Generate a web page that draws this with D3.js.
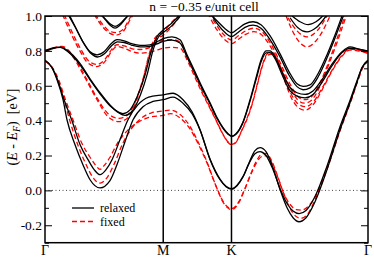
<!DOCTYPE html>
<html>
<head>
<meta charset="utf-8">
<script src="https://cdn.jsdelivr.net/npm/d3@7"></script>
<style>
body { margin: 0; background: #fff; }
svg text { font-family: "Liberation Serif", "Times New Roman", "DejaVu Serif", serif; }
</style>
</head>
<body>
<script>
// size of the page and plot box
var w = 374, h = 258;
var x0 = 45, x1 = 368, y0 = 16, y1 = 242.7;

// path through the zone: Γ - M - K - Γ
var kTicks = [0, 0.866, 1.366, 2.366];
var kLabels = ["Γ", "M", "K", "Γ"];
var eTicks = [-0.2, 0.0, 0.2, 0.4, 0.6, 0.8, 1.0];
var eMinor = [-0.3, -0.1, 0.1, 0.3, 0.5, 0.7, 0.9];
var title = "n = \u22120.35 e/unit cell";
var legendNames = ["relaxed", "fixed"];

// bands as [k, E]
var relaxedA1 = [[0,0.746],[0.051,0.703],[0.088,0.634],[0.132,0.52],[0.161,0.405],[0.22,0.262],[0.278,0.147],[0.33,0.061],[0.403,0.014],[0.476,0.056],[0.527,0.147],[0.586,0.279],[0.645,0.405],[0.718,0.48],[0.791,0.51],[0.866,0.52],
  [0.938,0.535],[1.011,0.5],[1.077,0.44],[1.136,0.345],[1.209,0.176],[1.282,0.061],[1.326,0.021],[1.368,0.007],
  [1.407,0.027],[1.451,0.078],[1.495,0.159],[1.538,0.228],[1.575,0.245],[1.619,0.222],[1.67,0.13],[1.722,0.004],[1.773,-0.1],[1.817,-0.157],[1.861,-0.18],[1.912,-0.157],[1.978,-0.065],[2.066,0.119],[2.161,0.347],[2.234,0.502],[2.286,0.622],[2.322,0.703],[2.366,0.746]];
var relaxedA2 = [[0,0.746],[0.051,0.705],[0.092,0.634],[0.14,0.52],[0.195,0.405],[0.257,0.262],[0.315,0.176],[0.36,0.119],[0.403,0.09],[0.447,0.119],[0.491,0.176],[0.549,0.29],[0.608,0.405],[0.68,0.49],[0.76,0.535],[0.866,0.548],
  [0.938,0.557],[1.011,0.52],[1.077,0.451],[1.136,0.348],[1.209,0.18],[1.282,0.065],[1.326,0.024],[1.368,0.01],
  [1.407,0.03],[1.451,0.08],[1.495,0.155],[1.538,0.21],[1.575,0.222],[1.619,0.2],[1.67,0.12],[1.722,0.01],[1.773,-0.075],[1.817,-0.118],[1.861,-0.133],[1.912,-0.115],[1.978,-0.035],[2.066,0.14],[2.161,0.365],[2.234,0.515],[2.286,0.63],[2.322,0.705],[2.366,0.746]];
var relaxedB1 = [[0,0.797],[0.051,0.812],[0.11,0.82],[0.168,0.795],[0.256,0.72],[0.33,0.634],[0.403,0.554],[0.476,0.485],[0.535,0.45],[0.571,0.44],[0.623,0.462],[0.681,0.548],[0.733,0.663],[0.777,0.795],[0.82,0.881],[0.866,0.92],[0.93,0.96],[0.99,1.01]];
var relaxedB2 = [[0,0.802],[0.051,0.816],[0.11,0.822],[0.168,0.8],[0.256,0.728],[0.33,0.64],[0.403,0.56],[0.476,0.49],[0.54,0.445],[0.586,0.43],[0.64,0.455],[0.7,0.55],[0.75,0.67],[0.79,0.8],[0.83,0.878],[0.866,0.905],[0.93,0.945],[1.0,1.01]];
var relaxedC1 = [[0.168,1.01],[0.22,0.938],[0.278,0.852],[0.33,0.795],[0.381,0.777],[0.432,0.795],[0.484,0.841],[0.527,0.864],[0.579,0.858],[0.637,0.841],[0.696,0.832],[0.769,0.835],[0.82,0.852],[0.866,0.87],
  [0.93,0.88],[0.989,0.864],[1.04,0.778],[1.092,0.692],[1.15,0.594],[1.209,0.502],[1.26,0.417],[1.304,0.36],[1.341,0.325],[1.368,0.311],
  [1.399,0.325],[1.451,0.394],[1.502,0.52],[1.546,0.646],[1.583,0.749],[1.619,0.8],[1.648,0.8],[1.685,0.766],[1.736,0.68],[1.795,0.59],[1.846,0.56],[1.905,0.55],[1.963,0.57],[2.029,0.635],[2.103,0.725],[2.176,0.795],[2.234,0.823],[2.293,0.812],[2.366,0.797]];
var relaxedC2 = [[0.175,1.01],[0.227,0.93],[0.285,0.842],[0.337,0.785],[0.385,0.765],[0.435,0.783],[0.488,0.83],[0.53,0.852],[0.58,0.848],[0.637,0.832],[0.696,0.823],[0.769,0.826],[0.82,0.84],[0.866,0.855],
  [0.93,0.862],[0.989,0.845],[1.04,0.765],[1.092,0.68],[1.15,0.585],[1.209,0.495],[1.26,0.412],[1.304,0.356],[1.341,0.322],[1.368,0.309],
  [1.399,0.322],[1.451,0.39],[1.502,0.512],[1.546,0.635],[1.583,0.737],[1.619,0.788],[1.648,0.79],[1.685,0.755],[1.736,0.665],[1.795,0.57],[1.846,0.54],[1.905,0.53],[1.963,0.55],[2.029,0.62],[2.103,0.715],[2.176,0.79],[2.234,0.815],[2.293,0.81],[2.366,0.8]];
var relaxedD1 = [[0.403,1.01],[0.44,0.985],[0.476,0.955],[0.513,0.94],[0.549,0.955],[0.586,0.985],[0.62,1.01]];
var relaxedD2 = [[0.41,1.01],[0.446,0.975],[0.48,0.945],[0.513,0.93],[0.546,0.945],[0.58,0.975],[0.615,1.01]];
var relaxedE1 = [[1.2,1.02],[1.267,0.967],[1.319,0.927],[1.368,0.904],[1.414,0.927],[1.465,0.955],[1.524,0.967],[1.582,0.95],[1.648,0.887],[1.722,0.783],[1.788,0.68],[1.846,0.611],[1.89,0.596],[1.941,0.605],[2.0,0.669],[2.066,0.778],[2.125,0.892],[2.18,1.01]];
var relaxedE2 = [[1.21,1.02],[1.267,0.95],[1.319,0.905],[1.368,0.882],[1.414,0.905],[1.465,0.935],[1.524,0.948],[1.582,0.93],[1.648,0.865],[1.722,0.765],[1.788,0.66],[1.846,0.595],[1.89,0.577],[1.941,0.588],[2.0,0.65],[2.066,0.76],[2.125,0.875],[2.19,1.01]];
var relaxedF1 = [[1.81,1.0],[1.868,0.967],[1.927,0.95],[1.985,0.967],[2.044,1.007]];
var relaxedF2 = [[1.795,0.99],[1.853,0.932],[1.919,0.909],[1.985,0.932],[2.059,1.0]];

var fixedA1 = [[0,0.742],[0.055,0.7],[0.095,0.634],[0.14,0.52],[0.18,0.405],[0.24,0.262],[0.3,0.15],[0.35,0.075],[0.403,0.042],[0.456,0.075],[0.506,0.15],[0.57,0.27],[0.63,0.35],[0.7,0.41],[0.78,0.445],[0.866,0.455],
  [0.92,0.46],[0.99,0.435],[1.06,0.37],[1.12,0.28],[1.18,0.176],[1.25,0.03],[1.31,-0.075],[1.368,-0.11],
  [1.42,-0.07],[1.47,0.02],[1.51,0.1],[1.55,0.17],[1.59,0.21],[1.62,0.212],[1.66,0.17],[1.7,0.09],[1.75,-0.02],[1.8,-0.11],[1.84,-0.15],[1.875,-0.16],[1.92,-0.14],[1.98,-0.05],[2.07,0.13],[2.165,0.35],[2.24,0.51],[2.29,0.625],[2.325,0.7],[2.366,0.742]];
var fixedA2 = [[0,0.742],[0.055,0.702],[0.1,0.634],[0.15,0.52],[0.205,0.405],[0.27,0.27],[0.33,0.19],[0.37,0.145],[0.403,0.12],[0.436,0.145],[0.476,0.19],[0.53,0.27],[0.6,0.34],[0.68,0.39],[0.77,0.42],[0.866,0.43],
  [0.92,0.44],[0.99,0.415],[1.06,0.355],[1.12,0.27],[1.18,0.17],[1.25,0.03],[1.31,-0.07],[1.368,-0.105],
  [1.42,-0.065],[1.47,0.02],[1.51,0.095],[1.55,0.16],[1.59,0.195],[1.62,0.198],[1.66,0.16],[1.7,0.085],[1.75,-0.02],[1.8,-0.085],[1.84,-0.11],[1.88,-0.113],[1.93,-0.09],[1.99,-0.02],[2.07,0.14],[2.165,0.36],[2.24,0.515],[2.29,0.628],[2.325,0.7],[2.366,0.742]];
var fixedB1 = [[0,0.795],[0.051,0.812],[0.125,0.823],[0.198,0.772],[0.293,0.646],[0.381,0.52],[0.462,0.422],[0.542,0.394],[0.608,0.417],[0.667,0.508],[0.718,0.634],[0.762,0.778],[0.806,0.875],[0.866,0.91],[0.93,0.966],[0.989,1.01]];
var fixedB2 = [[0,0.8],[0.051,0.815],[0.125,0.826],[0.198,0.78],[0.293,0.656],[0.381,0.53],[0.462,0.44],[0.542,0.413],[0.608,0.435],[0.667,0.52],[0.718,0.64],[0.762,0.77],[0.806,0.86],[0.866,0.89],[0.93,0.94],[1.0,1.01]];
var fixedC1 = [[0.128,1.01],[0.19,0.9],[0.256,0.8],[0.315,0.73],[0.381,0.71],[0.44,0.74],[0.49,0.8],[0.527,0.825],[0.58,0.815],[0.64,0.795],[0.696,0.787],[0.77,0.793],[0.82,0.805],[0.866,0.815],
  [0.93,0.82],[0.99,0.815],[1.04,0.75],[1.092,0.66],[1.15,0.56],[1.209,0.47],[1.26,0.39],[1.304,0.32],[1.341,0.275],[1.368,0.262],
  [1.399,0.275],[1.44,0.34],[1.478,0.405],[1.52,0.5],[1.56,0.62],[1.595,0.72],[1.63,0.775],[1.665,0.782],[1.705,0.74],[1.755,0.645],[1.805,0.55],[1.855,0.495],[1.905,0.48],[1.963,0.505],[2.029,0.585],[2.103,0.69],[2.176,0.775],[2.234,0.81],[2.293,0.805],[2.366,0.79]];
var fixedC2 = [[0.14,1.01],[0.2,0.905],[0.262,0.81],[0.32,0.742],[0.381,0.722],[0.44,0.752],[0.49,0.81],[0.527,0.835],[0.58,0.828],[0.64,0.812],[0.696,0.808],[0.77,0.82],[0.82,0.845],[0.866,0.862],
  [0.93,0.865],[0.99,0.85],[1.04,0.77],[1.092,0.675],[1.15,0.57],[1.209,0.475],[1.26,0.392],[1.304,0.322],[1.341,0.277],[1.368,0.264],
  [1.399,0.277],[1.44,0.342],[1.478,0.41],[1.52,0.505],[1.56,0.625],[1.595,0.725],[1.63,0.785],[1.665,0.79],[1.705,0.75],[1.755,0.63],[1.805,0.53],[1.855,0.475],[1.905,0.46],[1.963,0.49],[2.029,0.575],[2.103,0.685],[2.176,0.77],[2.234,0.805],[2.293,0.8],[2.366,0.785]];
var fixedD1 = [[0.366,1.01],[0.425,0.95],[0.476,0.912],[0.52,0.905],[0.571,0.922],[0.623,0.99],[0.64,1.01]];
var fixedD2 = [[0.36,1.01],[0.42,0.94],[0.476,0.9],[0.52,0.89],[0.571,0.91],[0.628,0.985],[0.648,1.01]];
var fixedE1 = [[1.2,1.02],[1.267,0.935],[1.319,0.885],[1.368,0.862],[1.414,0.885],[1.47,0.915],[1.53,0.93],[1.59,0.91],[1.655,0.84],[1.73,0.72],[1.795,0.61],[1.85,0.54],[1.9,0.52],[1.95,0.535],[2.01,0.61],[2.075,0.73],[2.135,0.86],[2.2,1.01]];
var fixedE2 = [[1.19,1.02],[1.26,0.92],[1.315,0.865],[1.368,0.842],[1.414,0.865],[1.47,0.895],[1.53,0.91],[1.59,0.89],[1.655,0.82],[1.73,0.7],[1.795,0.59],[1.85,0.52],[1.9,0.5],[1.95,0.515],[2.01,0.59],[2.075,0.715],[2.14,0.85],[2.21,1.01]];
var fixedF1 = [[1.78,0.99],[1.846,0.915],[1.919,0.88],[1.993,0.915],[2.066,1.0]];
var fixedF2 = [[1.766,1.0],[1.832,0.886],[1.919,0.823],[2.007,0.88],[2.088,1.0]];

var relaxedBands = [relaxedA1, relaxedA2, relaxedB1, relaxedB2, relaxedC1, relaxedC2, relaxedD1, relaxedD2, relaxedE1, relaxedE2, relaxedF1, relaxedF2];
var fixedBands = [fixedA1, fixedA2, fixedB1, fixedB2, fixedC1, fixedC2, fixedD1, fixedD2, fixedE1, fixedE2, fixedF1, fixedF2];

var serif = "\"Liberation Serif\", \"Times New Roman\", \"DejaVu Serif\", serif";

var svg = d3.select("body")
            .append("svg")
            .attr("width", w)
            .attr("height", h)
            .style("background", "#fff");

var x = d3.scaleLinear().domain([0, 2.366]).range([x0, x1]);
var y = d3.scaleLinear().domain([-0.3, 1.0]).range([y1, y0]);

svg.append("clipPath").attr("id", "plotclip")
   .append("rect")
   .attr("x", x0).attr("y", y0)
   .attr("width", x1 - x0).attr("height", y1 - y0);

// zero line
svg.append("line")
   .attr("x1", x0).attr("x2", x1)
   .attr("y1", y(0)).attr("y2", y(0))
   .attr("stroke", "#444")
   .attr("stroke-width", 1)
   .attr("stroke-dasharray", "1,2.5");

var line = d3.line()
   .x(function(d) { return x(d[0]); })
   .y(function(d) { return y(d[1]); })
   .curve(d3.curveMonotoneX);

var bands = svg.append("g").attr("clip-path", "url(#plotclip)");

bands.selectAll("path.fixed")
   .data(fixedBands)
   .enter()
   .append("path")
   .attr("class", "fixed")
   .attr("d", line)
   .attr("fill", "none")
   .attr("stroke", "#ff0000")
   .attr("stroke-width", 1.3)
   .attr("stroke-dasharray", "5,3");

bands.selectAll("path.relaxed")
   .data(relaxedBands)
   .enter()
   .append("path")
   .attr("class", "relaxed")
   .attr("d", line)
   .attr("fill", "none")
   .attr("stroke", "#000")
   .attr("stroke-width", 1.3);

// vertical lines at M and K
svg.selectAll("line.kline")
   .data(kTicks.slice(1, 3))
   .enter()
   .append("line")
   .attr("class", "kline")
   .attr("x1", function(d) { return x(d); })
   .attr("x2", function(d) { return x(d); })
   .attr("y1", y0).attr("y2", y1)
   .attr("stroke", "#000")
   .attr("stroke-width", 1.5);

// y axes, ticks inside
function fmt(d) { return d.toFixed(1); }

var yLeft = svg.append("g")
   .attr("transform", "translate(" + x0 + ",0)")
   .call(d3.axisLeft(y).tickValues(eTicks).tickSize(-7).tickPadding(3).tickFormat(fmt));
yLeft.append("g").call(d3.axisLeft(y).tickValues(eMinor).tickSize(-4).tickFormat(""));

var yRight = svg.append("g")
   .attr("transform", "translate(" + x1 + ",0)")
   .call(d3.axisRight(y).tickValues(eTicks).tickSize(-7).tickFormat(""));
yRight.append("g").call(d3.axisRight(y).tickValues(eMinor).tickSize(-4).tickFormat(""));

svg.selectAll(".domain").remove();
svg.selectAll(".tick line").attr("stroke", "#000").attr("stroke-width", 1);
yLeft.attr("font-family", null).attr("font-size", null);
yLeft.selectAll("text")
   .style("font-family", serif)
   .style("font-size", "13.5px")
   .attr("fill", "#000");

// frame
svg.append("rect")
   .attr("x", x0).attr("y", y0)
   .attr("width", x1 - x0).attr("height", y1 - y0)
   .attr("fill", "none")
   .attr("stroke", "#000")
   .attr("stroke-width", 1.5);

// k labels
svg.selectAll("text.klab")
   .data(kTicks)
   .enter()
   .append("text")
   .attr("class", "klab")
   .attr("x", function(d) { return x(d); })
   .attr("y", 255)
   .attr("text-anchor", "middle")
   .style("font-family", serif)
   .style("font-size", "14px")
   .text(function(d, i) { return kLabels[i]; });

// title
svg.append("text")
   .attr("x", 204)
   .attr("y", 11)
   .attr("text-anchor", "middle")
   .style("font-family", serif)
   .style("font-size", "13.5px")
   .text(title);

// y label
var ylab = svg.append("text")
   .attr("transform", "translate(17,127) rotate(-90)")
   .attr("text-anchor", "middle")
   .style("font-family", serif)
   .style("font-size", "14px");
ylab.append("tspan").text("(");
ylab.append("tspan").style("font-style", "italic").text("E");
ylab.append("tspan").text(" - ");
ylab.append("tspan").style("font-style", "italic").text("E");
ylab.append("tspan").style("font-style", "italic").style("font-size", "10px").attr("dy", 3).text("F");
ylab.append("tspan").attr("dy", -3).text(")\u00a0\u00a0[eV]");

// legend
var legend = svg.append("g");
legend.selectAll("line")
   .data(legendNames)
   .enter()
   .append("line")
   .attr("x1", 72).attr("x2", 94)
   .attr("y1", function(d, i) { return 208 + i * 13.5; })
   .attr("y2", function(d, i) { return 208 + i * 13.5; })
   .attr("stroke", function(d, i) { return i == 0 ? "#000" : "#ff0000"; })
   .attr("stroke-width", 1.3)
   .attr("stroke-dasharray", function(d, i) { return i == 0 ? null : "5,3"; });
legend.selectAll("text")
   .data(legendNames)
   .enter()
   .append("text")
   .attr("x", 100)
   .attr("y", function(d, i) { return 212 + i * 13.5; })
   .style("font-family", serif)
   .style("font-size", "12px")
   .text(function(d) { return d; });
</script>
</body>
</html>
